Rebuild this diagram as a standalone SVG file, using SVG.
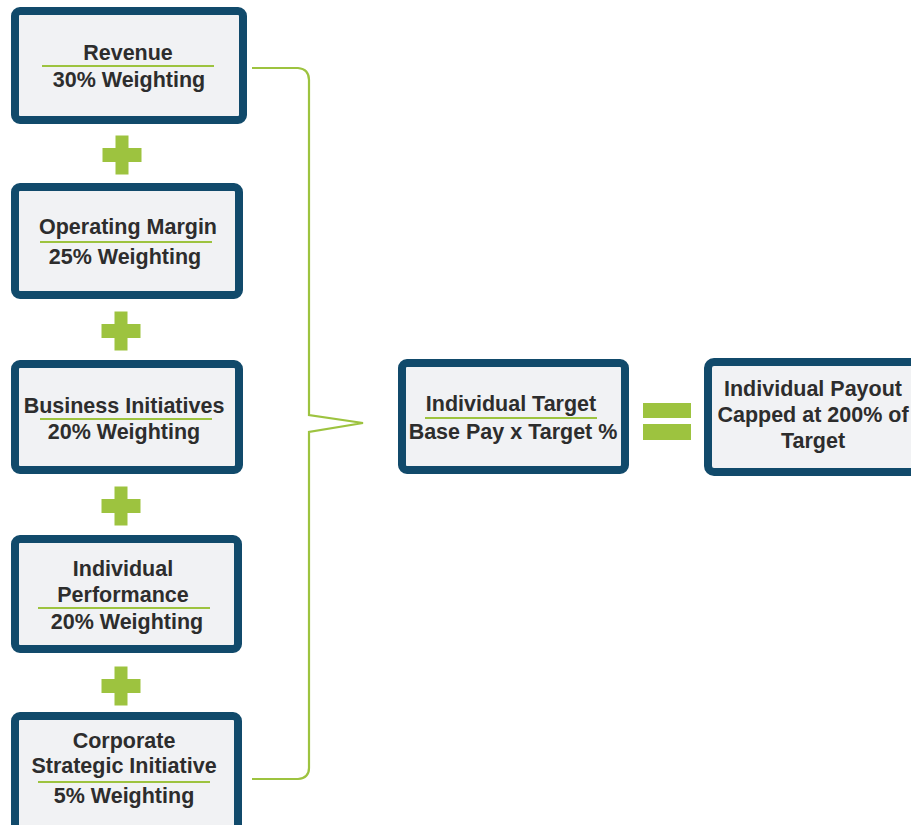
<svg xmlns="http://www.w3.org/2000/svg" width="911" height="825" viewBox="0 0 911 825">
  <style>
    .box { fill: #f1f2f4; stroke: #114a6b; stroke-width: 8; }
    .t { font-family: "Liberation Sans", Arial, sans-serif; font-weight: bold; font-size: 21.5px; fill: #2d2d2d; text-anchor: middle; }
    .rule { stroke: #9dc33f; stroke-width: 2; }
    .op { fill: #9dc33f; }
    .brace { fill: none; stroke: #9dc33f; stroke-width: 2.2; stroke-linejoin: miter; }
  </style>
  <defs>
    <path id="plus" class="op" d="M-6.5 -19.5 H6.5 V-7 H19.5 V7 H6.5 V19.5 H-6.5 V7 H-19.5 V-7 H-6.5 Z"/>
  </defs>

  <rect width="911" height="825" fill="#ffffff"/>

  <!-- weighted components -->
  <g id="revenue">
    <rect class="box" x="15" y="11" width="228" height="109" rx="5"/>
    <text class="t" x="128" y="60">Revenue</text>
    <line class="rule" x1="42" y1="66" x2="214" y2="66"/>
    <text class="t" x="129" y="87">30% Weighting</text>
  </g>

  <g id="operating-margin">
    <rect class="box" x="15" y="187" width="224" height="108" rx="5"/>
    <text class="t" x="128" y="234">Operating Margin</text>
    <line class="rule" x1="40" y1="242" x2="212" y2="242"/>
    <text class="t" x="125" y="264">25% Weighting</text>
  </g>

  <g id="business-initiatives">
    <rect class="box" x="15" y="364" width="224" height="106" rx="5"/>
    <text class="t" x="124" y="413">Business Initiatives</text>
    <line class="rule" x1="40" y1="419" x2="212" y2="419"/>
    <text class="t" x="124" y="439">20% Weighting</text>
  </g>

  <g id="individual-performance">
    <rect class="box" x="15" y="539" width="223" height="110" rx="5"/>
    <text class="t" x="123" y="576">Individual</text>
    <text class="t" x="123" y="602">Performance</text>
    <line class="rule" x1="38" y1="608" x2="210" y2="608"/>
    <text class="t" x="127" y="629">20% Weighting</text>
  </g>

  <g id="corporate-strategic">
    <rect class="box" x="15" y="716" width="223" height="120" rx="5"/>
    <text class="t" x="124" y="748">Corporate</text>
    <text class="t" x="124" y="773">Strategic Initiative</text>
    <line class="rule" x1="38" y1="782" x2="210" y2="782"/>
    <text class="t" x="124" y="803">5% Weighting</text>
  </g>

  <!-- operators -->
  <g id="plus-1"><use href="#plus" x="122" y="155"/></g>
  <g id="plus-2"><use href="#plus" x="121" y="331"/></g>
  <g id="plus-3"><use href="#plus" x="121" y="506"/></g>
  <g id="plus-4"><use href="#plus" x="121" y="686"/></g>

  <g id="equals">
    <rect class="op" x="643" y="403" width="48" height="15"/>
    <rect class="op" x="643" y="424" width="48" height="16"/>
  </g>

  <!-- connectors -->
  <g id="connectors">
    <path class="brace" d="M252 68 H298 Q309 69 309 80 V415 L363 423 L309 432 V768 Q309 778 298 779 H252"/>
  </g>

  <!-- result nodes -->
  <g id="individual-target">
    <rect class="box" x="402" y="363" width="223" height="107" rx="5"/>
    <text class="t" x="511" y="411">Individual Target</text>
    <line class="rule" x1="425" y1="418" x2="597" y2="418"/>
    <text class="t" x="513" y="439">Base Pay x Target %</text>
  </g>

  <g id="individual-payout">
    <rect class="box" x="708" y="362" width="215" height="110" rx="6"/>
    <text class="t" x="813" y="396">Individual Payout</text>
    <text class="t" x="813" y="422">Capped at 200% of</text>
    <text class="t" x="813" y="448">Target</text>
  </g>
</svg>
